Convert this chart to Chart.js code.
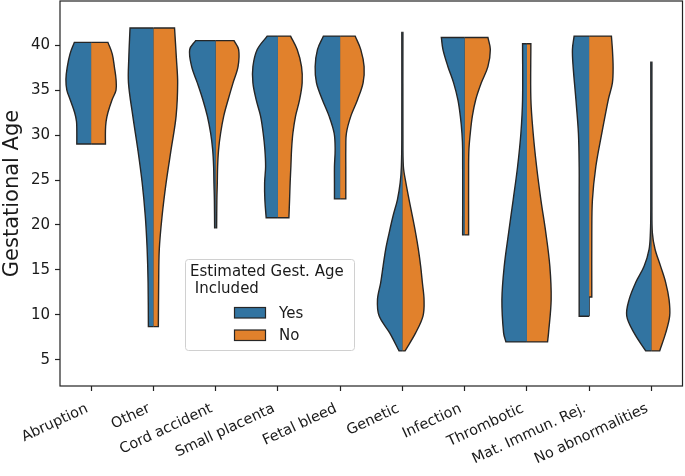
<!DOCTYPE html>
<html>
<head>
<meta charset="utf-8">
<script src="https://cdn.jsdelivr.net/npm/chart.js@4/dist/chart.umd.min.js"></script>
<style>
body{margin:0;background:#fff}
#wrap{width:685px;height:476px}
</style>
</head>
<body>
<div id="wrap"><canvas id="grafico" width="685" height="476"></canvas></div>
<script>

/* DADOS */

const categories=["Abruption","Other","Cord accident","Small placenta","Fetal bleed","Genetic","Infection","Thrombotic","Mat. Immun. Rej.","No abnormalities"]

const yTicks=[5,10,15,20,25,30,35,40]

const hues=["Yes","No"]

// violin halves: [gestational age, half width in category units], bottom to top
const yesShapes=[
[[29.0,.23],[30.5,.23],[31.5,.235],[32.5,.265],[33.9,.335],[35,.39],[36.2,.405],[37.5,.385],[39,.34],[40.3,.27]],
[[8.7,.08],[13.6,.085],[17.3,.10],[21,.13],[24.7,.18],[28.4,.25],[32.1,.33],[35.8,.40],[38.5,.395],[41.9,.375]],
[[19.7,.016],[22.8,.02],[24.7,.027],[26.5,.032],[28.4,.048],[30.2,.08],[32.1,.133],[33.9,.204],[35.8,.294],[37.6,.385],[39.5,.417],[40.5,.32]],
[[20.8,.188],[22.8,.209],[24.7,.213],[26.5,.197],[28.4,.209],[30.2,.236],[32.1,.278],[33.9,.348],[35.8,.401],[37.6,.401],[39.5,.332],[41.0,.172]],
[[22.9,.091],[24.7,.091],[26.5,.091],[28.4,.08],[30.2,.096],[32.1,.177],[33.9,.284],[35.8,.38],[37.6,.401],[39.5,.364],[41.0,.268]],
[[6,.053],[8,.204],[9.9,.374],[11.7,.40],[13.6,.348],[15.4,.31],[17.3,.268],[19.1,.213],[21,.15],[22.8,.08],[24.7,.035],[26.5,.016],[30,.008],[41.4,.008]],
[[18.9,.032],[28.4,.032],[30.2,.043],[32.1,.069],[33.9,.108],[35.8,.177],[37.6,.268],[39.5,.348],[40.85,.374]],
[[7.0,.337],[8.0,.374],[11.7,.401],[15.4,.364],[19.1,.294],[22.8,.22],[26.5,.149],[30.2,.096],[34,.069],[40.15,.069]],
[[9.85,.16],[15,.16],[22.8,.16],[26.5,.16],[30.2,.172],[34,.213],[37.6,.257],[39.5,.268],[41.0,.241]],
[[6.0,.091],[8.0,.278],[9.9,.396],[11.7,.358],[13.6,.252],[15.4,.117],[17.3,.037],[19.1,.016],[22,.008],[38.1,.008]]
]

const noShapes=[
[[29.0,.23],[30.5,.23],[31.5,.24],[32.5,.27],[33.9,.335],[35,.40],[36.2,.40],[37.5,.375],[39,.34],[40.3,.27]],
[[8.7,.08],[13.6,.085],[17.3,.095],[21,.14],[24.7,.205],[28.4,.285],[32.1,.365],[35.8,.39],[38.5,.37],[41.9,.34]],
[[19.7,.016],[22.8,.02],[24.7,.027],[26.5,.032],[28.4,.048],[30.2,.08],[32.1,.13],[33.9,.2],[35.8,.28],[37.6,.36],[39.5,.37],[40.5,.295]],
[[20.8,.177],[22.8,.188],[24.7,.197],[26.5,.209],[28.4,.22],[30.2,.241],[32.1,.284],[33.9,.348],[35.8,.39],[37.6,.38],[39.5,.31],[41.0,.204]],
[[22.9,.091],[24.7,.091],[26.5,.091],[28.4,.091],[30.2,.101],[32.1,.172],[33.9,.278],[35.8,.369],[37.6,.385],[39.5,.332],[41.0,.241]],
[[6,.043],[8,.213],[9.9,.332],[11.7,.348],[13.6,.321],[15.4,.294],[17.3,.257],[19.1,.213],[21,.16],[22.8,.108],[24.7,.056],[26.5,.016],[30,.008],[41.4,.008]],
[[18.9,.064],[26.5,.064],[28.4,.069],[30.2,.091],[32.1,.124],[33.9,.177],[35.8,.268],[37.6,.374],[39.5,.413],[40.85,.374]],
[[7.0,.332],[8.0,.348],[11.7,.39],[15.4,.369],[19.1,.305],[22.8,.225],[26.5,.156],[30.2,.101],[34,.064],[40.15,.064]],
[[12.0,.043],[19.1,.043],[22.8,.053],[26.5,.108],[30.2,.204],[34,.31],[35.8,.374],[37.6,.385],[39.5,.374],[41.0,.358]],
[[6.0,.133],[8.0,.23],[9.9,.294],[11.7,.284],[13.6,.23],[15.4,.149],[17.3,.059],[19.1,.016],[22,.008],[38.1,.008]]
]

/* ESTILO */

const cores={Yes:"#3274a1",No:"#e1812c"}
const contorno="#262626"
const fonte="'DejaVu Sans', sans-serif"
const texto="#1a1a1a"

/* MONTAR POLIGONOS */

function metade(i,perfil,lado){
const pts=[{x:i,y:perfil[0][0]}]
perfil.forEach((p,k)=>{
const pt={x:i+lado*p[1],y:p[0]}
pts.push(pt)
if(k===0||k===perfil.length-1) pts.push({x:pt.x,y:pt.y})
})
pts.push({x:i,y:perfil[perfil.length-1][0]})
return pts
}

const datasets=[]

categories.forEach((cat,i)=>{

;[[yesShapes[i],-1,hues[0]],[noShapes[i],1,hues[1]]].forEach(([perfil,lado,hue])=>{
datasets.push({
label:hue,
data:metade(i,perfil,lado),
showLine:true,
fill:"shape",
backgroundColor:cores[hue],
borderColor:contorno,
borderWidth:1.4,
pointRadius:0,
tension:0.35
})
})

const baixo=Math.min(yesShapes[i][0][0],noShapes[i][0][0])
const alto=Math.max(yesShapes[i][yesShapes[i].length-1][0],noShapes[i][noShapes[i].length-1][0])

datasets.push({
label:"centro",
data:[{x:i,y:baixo},{x:i,y:alto}],
showLine:true,
fill:false,
borderColor:contorno,
borderWidth:1.4,
pointRadius:0
})

})

/* MOLDURA E LEGENDA */

const moldura={
id:"moldura",
afterDraw(chart){
const {left,right,top,bottom}=chart.chartArea
const c=chart.ctx
c.save()
c.strokeStyle="#222"
c.lineWidth=1.2
c.strokeRect(left,top,right-left,bottom-top)
c.restore()
}
}

const legenda={
id:"legenda",
afterDraw(chart){
const c=chart.ctx
c.save()
c.beginPath()
c.roundRect(185.5,259.5,169,91,3)
c.fillStyle="rgba(255,255,255,0.85)"
c.fill()
c.strokeStyle="#d0d0d0"
c.lineWidth=1
c.stroke()

c.font="15px "+fonte
c.fillStyle=texto
c.textBaseline="alphabetic"
c.textAlign="left"
c.fillText("Estimated Gest. Age",190,276)
c.fillText(" Included",190,293)

hues.forEach((h,k)=>{
const y=307+k*22.5
c.fillStyle=cores[h]
c.fillRect(234.5,y+0.5,31,10.5)
c.strokeStyle=contorno
c.lineWidth=1.2
c.strokeRect(234.5,y+0.5,31,10.5)
c.fillStyle=texto
c.fillText(h,279,y+10.5)
})
c.restore()
}
}

/* GRAFICO */

const ctx=document.getElementById("grafico")

new Chart(ctx,{

type:"scatter",

data:{datasets:datasets},

options:{
responsive:false,
animation:false,
layout:{padding:{top:1,right:2.5,left:0,bottom:0}},
plugins:{
legend:{display:false},
tooltip:{enabled:false}
},
scales:{
x:{
type:"linear",
min:-0.5,
max:9.5,
afterBuildTicks:(s)=>{s.ticks=categories.map((_,i)=>({value:i}))},
afterFit:(s)=>{s.height=90;s.paddingLeft=0;s.paddingRight=0},
grid:{display:true,drawOnChartArea:false,drawTicks:true,tickLength:5,tickWidth:1.2,tickColor:"#222"},
border:{display:false},
ticks:{
autoSkip:false,
minRotation:25,
maxRotation:25,
padding:9,
labelOffset:-4,
color:texto,
font:{family:fonte,size:14.5},
callback:(v)=>categories[v]
}
},
y:{
min:2.1,
max:44.9,
afterBuildTicks:(s)=>{s.ticks=yTicks.map(v=>({value:v}))},
afterFit:(s)=>{s.width=60;s.paddingTop=0;s.paddingBottom=0},
grid:{display:true,drawOnChartArea:false,drawTicks:true,tickLength:5,tickWidth:1.2,tickColor:"#222"},
border:{display:false},
ticks:{
padding:5,
color:texto,
font:{family:fonte,size:15}
},
title:{
display:true,
text:"Gestational Age",
color:texto,
padding:{top:0,bottom:0},
font:{family:fonte,size:21}
}
}
}
},

plugins:[moldura,legenda]

})

</script>
</body>
</html>
